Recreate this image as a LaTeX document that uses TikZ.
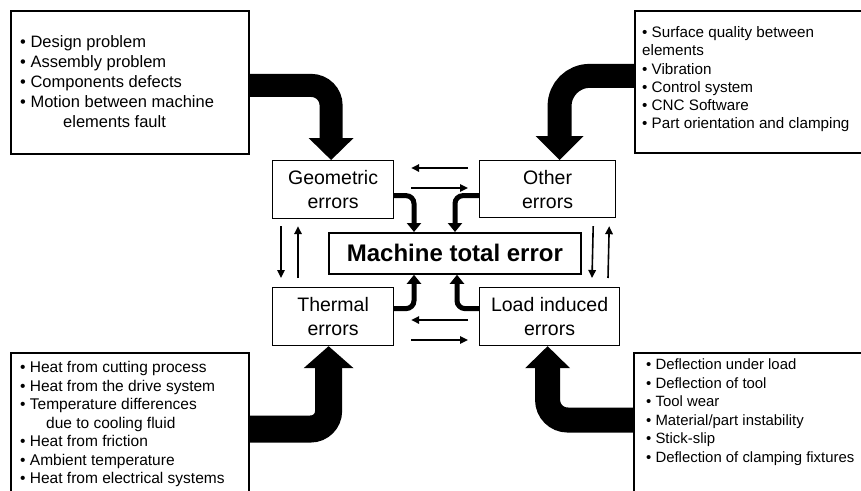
\documentclass[tikz,border=0pt]{standalone}
\usepackage{fontspec}
\setmainfont{Liberation Sans}
\usetikzlibrary{arrows.meta,calc}
\begin{document}
\begin{tikzpicture}[x=1pt,y=-1pt,
  srcbox/.style={draw, line width=1.8pt, anchor=north west, inner sep=0pt},
  errbox/.style={draw, line width=1.2pt, anchor=north west, inner sep=0pt, align=center,
    font=\fontsize{19.5}{24}\selectfont},
  listtext/.style={anchor=north west, inner sep=0pt, align=left},
  bigshaft/.style={draw=black, line cap=butt},
  midarrow/.style={line width=5pt, rounded corners=8pt, -{Triangle[length=9pt,width=14pt]}},
  thinarrow/.style={line width=1.6pt, -{Triangle[length=8pt,width=7.5pt]}}
]
\useasboundingbox (0,0) rectangle (861,490);

% source boxes
\node[srcbox, minimum width=238pt, minimum height=143pt] (tl) at (10,10) {};
\node[srcbox, minimum width=240pt, minimum height=142pt] (tr) at (634,10) {};
\node[srcbox, minimum width=238pt, minimum height=150pt] (bl) at (10,352) {};
\node[srcbox, minimum width=240pt, minimum height=150pt] (br) at (633,352) {};

\node[listtext, font=\fontsize{16.5}{20}\selectfont] (tlt) at (20,35)
  {• Design problem\\• Assembly problem\\• Components defects\\• Motion between machine\\\hspace*{43pt}elements fault};
\node[listtext, font=\fontsize{15.2}{18.2}\selectfont] (trt) at (642,26.5)
  {• Surface quality between\\elements\\• Vibration\\• Control system\\• CNC Software\\• Part orientation and clamping};
\node[listtext, font=\fontsize{15.5}{18.5}\selectfont] (blt) at (20,361.4)
  {• Heat from cutting process\\• Heat from the drive system\\• Temperature differences\\\hspace*{26pt}due to cooling fluid\\• Heat from friction\\• Ambient temperature\\• Heat from electrical systems};
\node[listtext, font=\fontsize{14.9}{18.5}\selectfont] (brt) at (646,358.7)
  {• Deflection under load\\• Deflection of tool\\• Tool wear\\• Material/part instability\\• Stick-slip\\• Deflection of clamping fixtures};

% error boxes
\node[errbox, minimum width=121pt, minimum height=58pt] (geo) at (272,160) {Geometric\\errors};
\node[errbox, minimum width=136pt, minimum height=57pt] (oth) at (479,160) {Other\\errors};
\node[errbox, minimum width=121pt, minimum height=58pt] (therm) at (272,287) {Thermal\\errors};
\node[errbox, minimum width=140pt, minimum height=58pt] (load) at (479,287) {Load induced\\errors};
\node[draw, line width=1.8pt, anchor=north west, inner sep=0pt, minimum width=252pt, minimum height=41pt,
  font=\fontsize{24}{28}\selectfont\bfseries] (mach) at (328,232) {Machine total error};

% big arrows
\coordinate (tlout) at ([yshift=-3pt]tl.east);
\coordinate (tlhead) at ([xshift=-2pt]geo.north);
\draw[bigshaft, line width=23pt, rounded corners=20pt] (tlout) -- (tlout -| tlhead) -- ($(tlhead)+(0,-21)$);
\fill (tlhead) -- ++(-22.5,-22) -- ++(45,0) -- cycle;

\coordinate (trout) at ([yshift=6pt]tr.west);
\coordinate (trhead) at ([xshift=12pt]oth.north);
\draw[bigshaft, line width=24pt, rounded corners=30pt] (trout) -- (trout -| trhead) -- ($(trhead)+(0,-23)$);
\fill (trhead) -- ++(-24,-24) -- ++(48,0) -- cycle;

\coordinate (blout) at ([yshift=-77pt]bl.north east);
\coordinate (blhead) at ([xshift=-4.5pt]therm.south);
\draw[bigshaft, line width=27pt, rounded corners=18pt] (blout) -- (blout -| blhead) -- ($(blhead)+(0,21)$);
\fill (blhead) -- ++(-25,22) -- ++(50,0) -- cycle;

\coordinate (brout) at ([yshift=-68pt]br.north west);
\coordinate (brhead) at ([xshift=-2pt]load.south);
\draw[bigshaft, line width=25pt, rounded corners=20pt] (brout) -- (brout -| brhead) -- ($(brhead)+(0,21)$);
\fill (brhead) -- ++(-22.5,22) -- ++(45,0) -- cycle;

% arrows into machine total error
\coordinate (mgl) at ([xshift=86pt]mach.north west);
\coordinate (mgr) at ([xshift=127pt]mach.north west);
\coordinate (msl) at ([xshift=86pt]mach.south west);
\coordinate (msr) at ([xshift=129pt]mach.south west);
\coordinate (ge) at ([yshift=-6pt]geo.east);
\coordinate (oe) at ([yshift=-6.5pt]oth.west);
\coordinate (te) at ([yshift=8pt]therm.east);
\coordinate (le) at ([yshift=8pt]load.west);
\draw[midarrow] (ge) -- (ge -| mgl) -- (mgl);
\draw[midarrow] (oe) -- (oe -| mgr) -- (mgr);
\draw[midarrow] (te) -- (te -| msl) -- (msl);
\draw[midarrow] (le) -- (le -| msr) -- (msr);

% thin arrows
\coordinate (h1s) at ([shift={(-11,8)}]oth.north west);
\coordinate (h1e) at ([shift={(17,8)}]geo.north east);
\coordinate (h2s) at ([shift={(17,28)}]geo.north east);
\coordinate (h2e) at ([shift={(-11,28)}]oth.north west);
\coordinate (h3s) at ([shift={(-11,33)}]load.north west);
\coordinate (h3e) at ([shift={(17,33)}]therm.north east);
\coordinate (h4s) at ([shift={(17,53)}]therm.north east);
\coordinate (h4e) at ([shift={(-11,53)}]load.north west);
\draw[thinarrow] (h1s) -- (h1e);
\draw[thinarrow] (h2s) -- (h2e);
\draw[thinarrow] (h3s) -- (h3e);
\draw[thinarrow] (h4s) -- (h4e);

\coordinate (v1s) at ([shift={(9,7)}]geo.south west);
\coordinate (v1e) at ([shift={(9,-9)}]therm.north west);
\coordinate (v2s) at ([shift={(26,-9)}]therm.north west);
\coordinate (v2e) at ([shift={(26,7)}]geo.south west);
\coordinate (v3s) at ([shift={(-23,8)}]oth.south east);
\coordinate (v3e) at ([shift={(113,-9)}]load.north west);
\coordinate (v4s) at ([shift={(129,-9)}]load.north west);
\coordinate (v4e) at ([shift={(-7,8)}]oth.south east);
\draw[thinarrow] (v1s) -- (v1e);
\draw[thinarrow] (v2s) -- (v2e);
\draw[thinarrow] (v3s) -- (v3e);
\draw[thinarrow] (v4s) -- (v4e);
\end{tikzpicture}
\end{document}
